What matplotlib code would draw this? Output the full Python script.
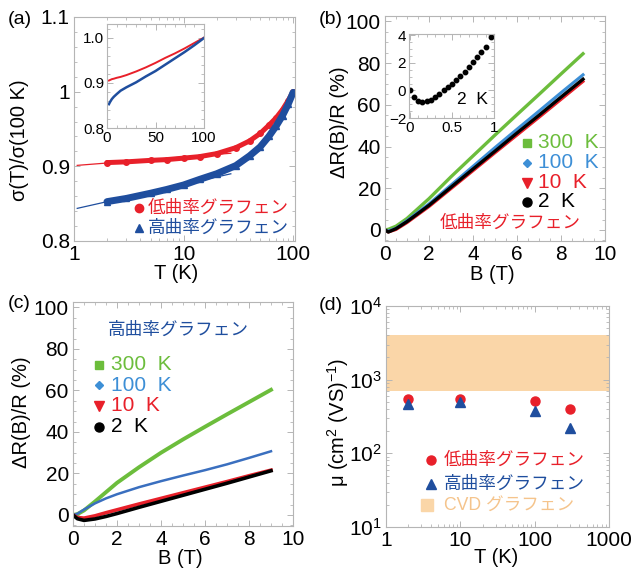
import matplotlib
matplotlib.use("Agg")
import matplotlib.pyplot as plt
from matplotlib.ticker import AutoMinorLocator, FixedLocator, FixedFormatter, LogLocator, NullFormatter

plt.rcParams['font.family'] = ['Liberation Sans', 'Noto Sans CJK JP', 'DejaVu Sans']
plt.rcParams['mathtext.fontset'] = 'custom'
plt.rcParams['mathtext.rm'] = 'Liberation Sans'
plt.rcParams['mathtext.it'] = 'Liberation Sans:italic'
plt.rcParams['mathtext.bf'] = 'Liberation Sans:bold'

# ---------------- data ----------------
# (a) normalized conductivity vs T
T_a = [2, 3, 5, 7, 10, 14, 20, 30, 40, 50, 60, 70, 80, 90, 100]
sig_low = [0.905, 0.906, 0.908, 0.909, 0.911, 0.913, 0.917, 0.925, 0.934, 0.944, 0.955, 0.965, 0.976, 0.988, 1.0]
sig_high = [0.8527, 0.857, 0.864, 0.869, 0.875, 0.8825, 0.890, 0.901, 0.914, 0.926, 0.940, 0.954, 0.968, 0.983, 0.999]
fit_T = [1.07, 27]
fit_low = [0.9013, 0.9175]
fit_high = [0.8437, 0.890]

# (b) low-curvature MR
B_b = [0, 0.15, 0.5, 1, 2, 3, 4, 5, 6, 7, 8, 9]
mr_b_300 = [0, 0.3, 1.8, 5.5, 15, 25.5, 35.5, 45.5, 55.3, 65, 74.8, 84.5]
mr_b_100 = [0, -0.5, 0.8, 4.5, 12.5, 21.5, 30.5, 39.5, 48.3, 57, 65.8, 74.4]
mr_b_10 = [0, -1, 0.2, 3.5, 11.2, 19.8, 28.4, 37, 45.5, 54, 62.6, 71.2]
mr_b_2 = [0, -1, 0.6, 4.0, 11.8, 20.5, 29.2, 37.8, 46.5, 55, 63.7, 72.3]
# (b) inset, 2 K low field
B_ins = [0, 0.05, 0.1, 0.15, 0.2, 0.25, 0.3, 0.35, 0.4, 0.45, 0.5, 0.55, 0.6, 0.65, 0.7, 0.75, 0.8, 0.85, 0.9, 0.96]
mr_ins = [0, -0.44, -0.76, -0.83, -0.80, -0.66, -0.49, -0.24, 0.0, 0.24, 0.49, 0.73, 1.02, 1.34, 1.71, 2.05, 2.44, 2.78, 3.17, 3.9]

# (c) high-curvature MR
B_c = [0, 0.2, 0.5, 1, 1.5, 2, 3, 4, 5, 6, 7, 8, 9]
mr_c_300 = [0, 0.4, 2.2, 6.5, 11.0, 15.5, 23.0, 30.0, 36.4, 42.5, 48.5, 54.4, 60.3]
mr_c_100 = [0, 0.6, 2.6, 5.6, 8.0, 10.0, 13.4, 16.3, 19.0, 21.6, 24.4, 27.5, 30.7]
mr_c_10 = [0, -1.2, -1.5, -0.4, 1.1, 2.5, 5.3, 8.0, 10.7, 13.4, 16.1, 18.9, 21.6]
mr_c_2 = [0, -1.8, -2.6, -1.9, -0.7, 0.7, 3.7, 6.6, 9.5, 12.4, 15.3, 18.3, 21.3]

# (d) mobility
T_d = [2, 10, 100, 300]
mu_low = [550, 540, 510, 405]
mu_high = [470, 490, 380, 222]
cvd_range = [700, 4000]

temps = ['300  K', '100  K', '10  K', '2  K']
name_low = '低曲率グラフェン'
name_high = '高曲率グラフェン'
name_cvd = 'CVD グラフェン'

# ---------------- style ----------------
RED = '#e8202a'
DBLUE = '#1f4e9e'
GREEN = '#6cbd3c'
LBLUE = '#3d8fd6'
CBLUE = '#3a6fbf'
ORANGE = '#fad6a8'
ORTXT = '#f5c48c'
GRID = '#b5b5b5'

FS = 15        # tick labels
FSA = 14.5     # axis labels
FSL = 15       # temperature legends
FSJ = 12.7     # Japanese texts

W, H = 637, 570
fig = plt.figure(figsize=(W / 100, H / 100), dpi=100)


def ax_at(l, t, r, b):
    return fig.add_axes([l / W, 1 - b / H, (r - l) / W, (b - t) / H])


def style(ax, fs=FS):
    for s in ax.spines.values():
        s.set_color(GRID)
        s.set_linewidth(0.8)
    ax.tick_params(which='both', direction='in', top=True, right=True, color=GRID,
                   labelcolor='black', labelsize=fs, pad=3)
    ax.tick_params(which='major', length=4, width=0.7)
    ax.tick_params(which='minor', length=2.2, width=0.6)


def labels(ax, xl, xc, yl, yc):
    ax.set_xlabel(xl, fontsize=FSA, va='center', ha='center')
    ax.xaxis.set_label_coords(*xc)
    ax.set_ylabel(yl, fontsize=FSA, va='center', ha='center')
    ax.yaxis.set_label_coords(*yc)


# ---------- (a) ----------
axa = ax_at(74, 17, 295, 241)
axa.set_xscale('log')
axa.set_xlim(1, 104)
axa.set_ylim(0.8, 1.1)
axa.plot(fit_T, fit_low, color=RED, lw=0.9)
axa.plot(fit_T, fit_high, color=DBLUE, lw=0.9)
axa.plot(T_a, sig_low, color=RED, lw=3.6, marker='o', ms=4, solid_capstyle='round')
axa.plot(T_a, sig_high, color=DBLUE, lw=5.0, marker='^', ms=4.5, solid_capstyle='round')
axa.yaxis.set_major_locator(FixedLocator([0.8, 0.9, 1.0, 1.1]))
axa.yaxis.set_major_formatter(FixedFormatter(['0.8', '0.9', '1', '1.1']))
axa.yaxis.set_minor_locator(AutoMinorLocator(5))
axa.xaxis.set_major_locator(FixedLocator([1, 10, 100]))
axa.xaxis.set_major_formatter(FixedFormatter(['1', '10', '100']))
axa.xaxis.set_minor_locator(LogLocator(base=10, subs=range(2, 10)))
axa.xaxis.set_minor_formatter(NullFormatter())
style(axa)
labels(axa, 'T (K)', (0.46, -0.143), 'σ(T)/σ(100 K)', (-0.245, 0.45))
axa.plot([0.294], [0.147], 'o', color=RED, ms=6, transform=axa.transAxes)
axa.plot([0.294], [0.058], '^', color=DBLUE, ms=6, transform=axa.transAxes)
axa.text(0.335, 0.147, name_low, color=RED, fontsize=FSJ, va='center', ha='left', transform=axa.transAxes)
axa.text(0.335, 0.058, name_high, color=DBLUE, fontsize=FSJ, va='center', ha='left', transform=axa.transAxes)

# inset (a)
axai = ax_at(107, 24, 204, 128)
axai.plot(T_a, sig_low, color=RED, lw=1.4)
axai.plot(T_a, sig_high, color=DBLUE, lw=1.8)
axai.set_xlim(0, 100)
axai.set_ylim(0.8, 1.03)
axai.xaxis.set_major_locator(FixedLocator([0, 50, 100]))
axai.yaxis.set_major_locator(FixedLocator([0.8, 0.9, 1.0]))
axai.yaxis.set_major_formatter(FixedFormatter(['0.8', '0.9', '1.0']))
axai.xaxis.set_minor_locator(AutoMinorLocator(5))
axai.yaxis.set_minor_locator(AutoMinorLocator(5))
style(axai, fs=11)
axai.tick_params(pad=2)

# ---------- (b) ----------
axb = ax_at(385, 16, 605, 241)
axb.plot(B_b, mr_b_300, color=GREEN, lw=2.4)
axb.plot(B_b, mr_b_100, color=LBLUE, lw=2.2)
axb.plot(B_b, mr_b_10, color=RED, lw=2.2)
axb.plot(B_b, mr_b_2, color='black', lw=2.4)
axb.set_xlim(0, 10)
axb.set_ylim(-5.3, 102.6)
axb.xaxis.set_major_locator(FixedLocator([0, 2, 4, 6, 8, 10]))
axb.yaxis.set_major_locator(FixedLocator([0, 20, 40, 60, 80, 100]))
axb.xaxis.set_minor_locator(AutoMinorLocator(4))
axb.yaxis.set_minor_locator(AutoMinorLocator(4))
style(axb)
labels(axb, 'B (T)', (0.49, -0.151), 'ΔR(B)/R (%)', (-0.205, 0.53))
leg_cols = [GREEN, LBLUE, RED, 'black']
leg_mk = ['s', 'D', 'v', 'o']
leg_ms = [6, 4.5, 6.5, 6.5]
ys_b = [0.436, 0.347, 0.258, 0.174]
for lab, c, m, s, y in zip(temps, leg_cols, leg_mk, leg_ms, ys_b):
    axb.plot([0.645], [y], m, color=c, ms=s, transform=axb.transAxes)
    axb.text(0.695, y, lab, color=c, fontsize=FSL, va='center', ha='left', transform=axb.transAxes)
axb.text(0.25, 0.08, name_low, color=RED, fontsize=FSJ, va='center', ha='left', transform=axb.transAxes)

# inset (b)
axbi = ax_at(409, 34, 494, 118)
axbi.plot(B_ins, mr_ins, 'o', color='black', ms=3.2)
axbi.set_xlim(-0.01, 1.0)
axbi.set_ylim(-2, 4.1)
axbi.xaxis.set_major_locator(FixedLocator([0, 0.5, 1]))
axbi.xaxis.set_major_formatter(FixedFormatter(['0', '0.5', '1']))
axbi.yaxis.set_major_locator(FixedLocator([-2, 0, 2, 4]))
axbi.xaxis.set_minor_locator(AutoMinorLocator(5))
axbi.yaxis.set_minor_locator(AutoMinorLocator(4))
style(axbi, fs=11)
axbi.tick_params(pad=2)
axbi.text(0.56, 0.22, '2  K', fontsize=12.5, va='center', ha='left', transform=axbi.transAxes)

# ---------- (c) ----------
axc = ax_at(73, 302, 293, 526)
axc.plot(B_c, mr_c_300, color=GREEN, lw=2.8)
axc.plot(B_c, mr_c_100, color=CBLUE, lw=1.8)
axc.plot(B_c, mr_c_10, color=RED, lw=2.6)
axc.plot(B_c, mr_c_2, color='black', lw=2.6)
axc.set_xlim(0, 10)
axc.set_ylim(-5.3, 102.6)
axc.xaxis.set_major_locator(FixedLocator([0, 2, 4, 6, 8, 10]))
axc.yaxis.set_major_locator(FixedLocator([0, 20, 40, 60, 80, 100]))
axc.xaxis.set_minor_locator(AutoMinorLocator(4))
axc.yaxis.set_minor_locator(AutoMinorLocator(4))
style(axc)
labels(axc, 'B (T)', (0.486, -0.143), 'ΔR(B)/R (%)', (-0.232, 0.51))
axc.text(0.159, 0.875, name_high, color=DBLUE, fontsize=FSJ, va='center', ha='left', transform=axc.transAxes)
ys_c = [0.719, 0.629, 0.536, 0.442]
for lab, c, m, s, y in zip(temps, leg_cols, leg_mk, leg_ms, ys_c):
    axc.plot([0.118], [y], m, color=c, ms=s, transform=axc.transAxes)
    axc.text(0.172, y, lab, color=c, fontsize=FSL, va='center', ha='left', transform=axc.transAxes)

# ---------- (d) ----------
axd = ax_at(386, 306, 609, 527)
axd.set_xscale('log')
axd.set_yscale('log')
axd.axhspan(cvd_range[0], cvd_range[1], color=ORANGE, lw=0)
axd.plot(T_d, mu_low, 'o', color=RED, ms=6.5, ls='none')
axd.plot(T_d, mu_high, '^', color=DBLUE, ms=6.5, ls='none')
axd.set_xlim(1, 1000)
axd.set_ylim(10, 1e4)
axd.xaxis.set_major_locator(FixedLocator([1, 10, 100, 1000]))
axd.xaxis.set_major_formatter(FixedFormatter(['1', '10', '100', '1000']))
axd.xaxis.set_minor_locator(LogLocator(base=10, subs=range(2, 10)))
axd.xaxis.set_minor_formatter(NullFormatter())
axd.yaxis.set_major_locator(FixedLocator([10, 100, 1000, 10000]))
axd.yaxis.set_major_formatter(FixedFormatter([r'$10^1$', r'$10^2$', r'$10^3$', r'$10^4$']))
axd.yaxis.set_minor_locator(LogLocator(base=10, subs=range(2, 10)))
axd.yaxis.set_minor_formatter(NullFormatter())
style(axd)
labels(axd, 'T (K)', (0.493, -0.14), r'μ (cm$^2$ (VS)$^{-1}$)', (-0.215, 0.475))
axd.plot([0.202], [0.303], 'o', color=RED, ms=6.5, transform=axd.transAxes)
axd.plot([0.202], [0.195], '^', color=DBLUE, ms=6.5, transform=axd.transAxes)
axd.plot([0.185], [0.10], 's', color=ORANGE, ms=9, transform=axd.transAxes)
axd.text(0.26, 0.303, name_low, color=RED, fontsize=FSJ, va='center', ha='left', transform=axd.transAxes)
axd.text(0.26, 0.195, name_high, color=DBLUE, fontsize=FSJ, va='center', ha='left', transform=axd.transAxes)
axd.text(0.26, 0.10, name_cvd, color=ORTXT, fontsize=FSJ, va='center', ha='left', transform=axd.transAxes)

# panel letters
for lab, x, y in [('(a)', 8, 19), ('(b)', 319, 20), ('(c)', 8, 303), ('(d)', 319, 305)]:
    fig.text(x / W, 1 - y / H, lab, fontsize=14, va='center', ha='left')

fig.savefig('out.png', dpi=100)
